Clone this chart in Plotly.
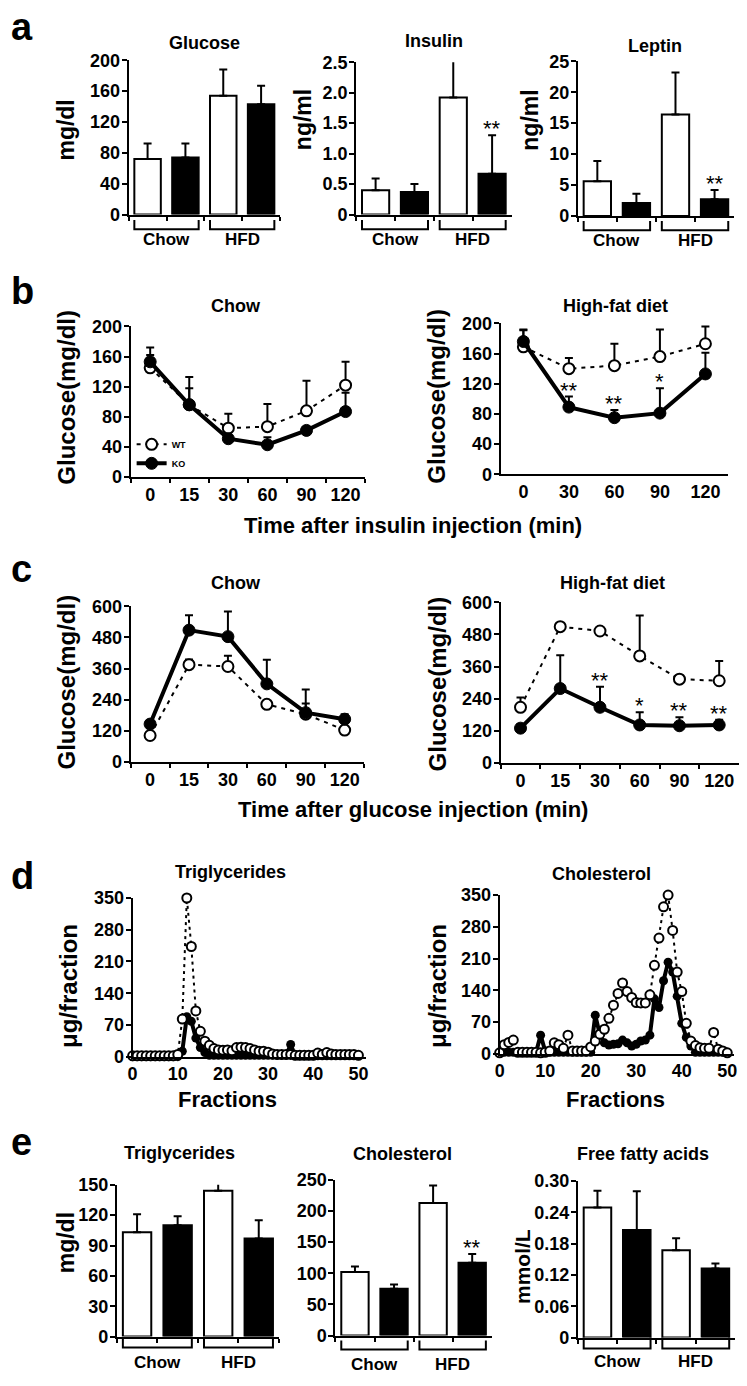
import plotly.graph_objects as go

# ---------------- data ----------------
bar_groups = ["Chow WT", "Chow KO", "HFD WT", "HFD KO"]
bar_fill = ["white", "black", "white", "black"]
group_labels = ["Chow", "HFD"]

glucose_mean = [72, 74, 154, 143]
glucose_sem = [20, 18, 34, 24]
insulin_mean = [0.40, 0.37, 1.92, 0.67]
insulin_sem = [0.19, 0.13, 0.63, 0.63]
insulin_sig = ["", "", "", "**"]
leptin_mean = [5.6, 2.1, 16.4, 2.7]
leptin_sem = [3.3, 1.5, 6.8, 1.5]
leptin_sig = ["", "", "", "**"]

itt_chow_time = ["0", "15", "30", "60", "90", "120"]
itt_chow_wt = [145, 96, 65, 67, 88, 122]
itt_chow_wt_sem = [27, 37, 19, 30, 40, 31]
itt_chow_ko = [153, 96, 51, 43, 62, 87]
itt_chow_ko_sem = [9, 22, 5, 10, 5, 25]

itt_hfd_time = ["0", "30", "60", "90", "120"]
itt_hfd_wt = [169, 140, 144, 156, 173]
itt_hfd_wt_sem = [22, 14, 29, 36, 23]
itt_hfd_ko = [176, 89, 75, 81, 133]
itt_hfd_ko_sem = [16, 14, 10, 33, 28]
itt_hfd_sig = ["", "**", "**", "*", ""]

gtt_time = ["0", "15", "30", "60", "90", "120"]
gtt_chow_wt = [102, 375, 368, 222, 184, 123]
gtt_chow_wt_sem = [10, 20, 41, 10, 41, 10]
gtt_chow_ko = [146, 508, 483, 301, 190, 165]
gtt_chow_ko_sem = [10, 57, 97, 93, 89, 19]
gtt_hfd_wt = [208, 509, 493, 400, 313, 307]
gtt_hfd_wt_sem = [37, 5, 8, 151, 5, 74]
gtt_hfd_ko = [130, 278, 208, 142, 139, 142]
gtt_hfd_ko_sem = [16, 124, 77, 47, 32, 19]
gtt_hfd_sig = ["", "", "**", "*", "**", "**"]

fractions = list(range(0, 51))
tg_wt = [2, 2, 2, 2, 2, 2, 2, 2, 2, 2,
         5, 83, 350, 243, 101, 56, 34, 25, 18, 15,
         14, 15, 13, 20, 21, 20, 18, 15, 12, 12,
         10, 6, 5, 5, 5, 5, 3, 3, 3, 3,
         3, 8, 5, 9, 6, 5, 5, 5, 5, 5, 3]
tg_ko = [0, 0, 0, 0, 0, 0, 0, 0, 0, 0,
         0, 12, 88, 78, 41, 20, 9, 3, 3, 3,
         3, 3, 3, 3, 3, 3, 3, 3, 3, 3,
         3, 3, 3, 3, 3, 27, 2, 2, 2, 2,
         2, 2, 2, 2, 2, 2, 2, 2, 2, 2, 2]
chol_wt = [2, 20, 25, 30, 3, 3, 3, 3, 3, 2,
           3, 6, 24, 20, 12, 41, 6, 6, 6, 6,
           15, 28, 43, 54, 78, 107, 133, 156, 137, 124,
           113, 112, 112, 130, 195, 255, 324, 350, 272, 180,
           137, 67, 28, 18, 13, 12, 12, 47, 10, 6, 2]
chol_ko = [3, 3, 3, 3, 3, 3, 3, 3, 3, 41,
           6, 3, 3, 3, 3, 3, 3, 3, 3, 3,
           3, 85, 43, 24, 19, 21, 22, 30, 24, 17,
           21, 28, 30, 41, 121, 102, 161, 202, 180, 127,
           67, 36, 17, 3, 3, 3, 3, 3, 3, 3, 3]
fraction_ticks = [0, 10, 20, 30, 40, 50]

e_tg_mean = [103, 110, 144, 97]
e_tg_sem = [18, 9, 14, 18]
e_chol_mean = [102, 75, 213, 117]
e_chol_sem = [9, 7, 28, 14]
e_chol_sig = ["", "", "", "**"]
ffa_mean = [0.249, 0.206, 0.167, 0.132]
ffa_sem = [0.032, 0.074, 0.023, 0.010]

# ---------------- helpers ----------------
W, H = 747, 1386
FONT = "Liberation Sans, Arial, Helvetica, sans-serif"
TICK = 18
TITLE = 18


def fx(x):
    return x / W


def fy(y):
    return 1 - y / H


def bfont(size, weight="bold"):
    return dict(family=FONT, size=size, color="black", weight=weight)


fig = go.Figure()
annotations = []
shapes = []
layout = dict(
    width=W, height=H, margin=dict(l=0, r=0, t=0, b=0),
    paper_bgcolor="white", plot_bgcolor="rgba(0,0,0,0)",
    font=bfont(14), showlegend=True,
    legend=dict(x=fx(128), y=fy(426), xanchor="left", yanchor="top",
                font=bfont(9), bgcolor="rgba(0,0,0,0)", tracegroupgap=0,
                itemwidth=30, borderwidth=0),
)


def text_at(text, x, baseline, size, weight="bold", angle=0, center_y=None):
    y = center_y if center_y is not None else baseline - 0.3465 * size
    annotations.append(dict(text=text, x=fx(x), y=fy(y), xref="paper", yref="paper",
                            xanchor="center", yanchor="middle", showarrow=False,
                            textangle=angle, font=bfont(size, weight)))


def ytitle(text, x, yc, size=23):
    text_at(text, x, None, size, angle=-90, center_y=yc)


def make_axes(n, box, ymax, ytv, ytt, xcfg):
    x0, x1, yt, yb = box
    xk = "xaxis" if n == 1 else f"xaxis{n}"
    yk = "yaxis" if n == 1 else f"yaxis{n}"
    xr, yr = ("x", "y") if n == 1 else (f"x{n}", f"y{n}")
    layout[yk] = dict(domain=[fy(yb), fy(yt)], anchor=xr, range=[0, ymax],
                      autorange=False, tickvals=ytv, ticktext=ytt, showline=True,
                      linewidth=2, linecolor="black", ticks="outside", ticklen=5,
                      tickwidth=2, tickcolor="black", showgrid=False, zeroline=False,
                      tickfont=bfont(TICK), ticklabelstandoff=-2, fixedrange=True)
    xa = dict(domain=[fx(x0), fx(x1)], anchor=yr, showline=True, linewidth=2,
              linecolor="black", showgrid=False, zeroline=False, autorange=False,
              tickangle=0, tickfont=bfont(TICK), fixedrange=True)
    xa.update(xcfg)
    layout[xk] = xa
    return xr, yr


def star(xr, yr, idx, y, text):
    annotations.append(dict(text=text, x=idx, y=y, xref=xr, yref=yr, xanchor="center",
                            yanchor="bottom", yshift=-8, showarrow=False,
                            font=bfont(22, "normal")))


def bar_panel(n, box, ymax, ytv, ytt, means, sems, sig, br_top, br_bot, lab_base):
    xr, yr = make_axes(n, box, ymax, ytv, ytt, dict(
        type="category", categoryorder="array", categoryarray=bar_groups,
        range=[-0.5, 3.5], tickson="boundaries", ticks="outside", ticklen=4,
        tickwidth=2, tickcolor="black", showticklabels=False))
    bw = 0.7
    fig.add_trace(go.Bar(
        x=bar_groups, y=means, width=bw,
        marker=dict(color=bar_fill, line=dict(color="black", width=2)),
        error_y=dict(type="data", symmetric=False, array=sems,
                     arrayminus=[0] * len(sems), width=4, thickness=2, color="black"),
        xaxis=xr, yaxis=yr, showlegend=False))
    for i, (m, s, t) in enumerate(zip(means, sems, sig)):
        if t:
            star(xr, yr, i, m + s, t)
    for gi, lab in enumerate(group_labels):
        a0 = 2 * gi - bw / 2
        a1 = 2 * gi + 1 + bw / 2
        shapes.append(dict(type="path", xref=xr, yref="paper",
                           path=f"M {a0},{fy(br_top)} L {a0},{fy(br_bot)} L {a1},{fy(br_bot)} L {a1},{fy(br_top)}",
                           line=dict(color="black", width=2)))
        annotations.append(dict(text=lab, x=2 * gi + 0.5, xref=xr, y=fy(lab_base - 0.3465 * 17),
                                yref="paper", xanchor="center", yanchor="middle",
                                showarrow=False, font=bfont(17)))
    return xr, yr


def line_panel(n, box, ymax, ytv, cats, wt, wt_sem, ko, ko_sem, sig, show_ticks, legend=False):
    xr, yr = make_axes(n, box, ymax, ytv, [str(v) for v in ytv], dict(
        type="category", categoryorder="array", categoryarray=cats,
        range=[-0.5, len(cats) - 0.5], tickson="boundaries", ticks="outside",
        ticklen=4, tickwidth=2,
        tickcolor="black" if show_ticks else "rgba(0,0,0,0)"))
    fig.add_trace(go.Scatter(
        x=cats, y=wt, mode="lines+markers", name="WT",
        line=dict(color="black", width=2, dash="4px,5px"),
        marker=dict(symbol="circle", size=11, color="white", line=dict(color="black", width=2)),
        error_y=dict(type="data", symmetric=False, array=wt_sem, arrayminus=[0] * len(wt),
                     width=4, thickness=2, color="black"),
        xaxis=xr, yaxis=yr, cliponaxis=False, showlegend=legend))
    fig.add_trace(go.Scatter(
        x=cats, y=ko, mode="lines+markers", name="KO",
        line=dict(color="black", width=4),
        marker=dict(symbol="circle", size=12, color="black", line=dict(color="black", width=1)),
        error_y=dict(type="data", symmetric=False, array=ko_sem, arrayminus=[0] * len(ko),
                     width=4, thickness=2, color="black"),
        xaxis=xr, yaxis=yr, cliponaxis=False, showlegend=legend))
    if sig:
        for i, (m, s, t) in enumerate(zip(ko, ko_sem, sig)):
            if t:
                star(xr, yr, i, m + s, t)


def fraction_panel(n, box, wt, ko, xmax):
    ytv = [0, 70, 140, 210, 280, 350]
    xr, yr = make_axes(n, box, 350, ytv, [str(v) for v in ytv], dict(
        type="linear", range=[0, xmax], tickvals=fraction_ticks, ticks=""))
    fig.add_trace(go.Scatter(
        x=fractions, y=ko, mode="lines+markers",
        line=dict(color="black", width=4),
        marker=dict(symbol="circle", size=9, color="black"),
        xaxis=xr, yaxis=yr, cliponaxis=False, showlegend=False))
    fig.add_trace(go.Scatter(
        x=fractions, y=wt, mode="lines+markers",
        line=dict(color="black", width=2, dash="3px,4px"),
        marker=dict(symbol="circle", size=9, color="white", line=dict(color="black", width=2)),
        xaxis=xr, yaxis=yr, cliponaxis=False, showlegend=False))


# ---------------- panel a ----------------
bar_panel(1, (125, 278, 51, 207.5), 200, [0, 40, 80, 120, 160, 200],
          ["0", "40", "80", "120", "160", "200"], glucose_mean, glucose_sem,
          ["", "", "", ""], 213, 222.5, 239)
bar_panel(2, (355, 512, 53, 207.5), 2.5, [0, 0.5, 1.0, 1.5, 2.0, 2.5],
          ["0", "0.5", "1.0", "1.5", "2.0", "2.5"], insulin_mean, insulin_sem,
          insulin_sig, 213, 222.5, 239)
bar_panel(3, (579, 737, 52, 209), 25, [0, 5, 10, 15, 20, 25],
          ["0", "5", "10", "15", "20", "25"], leptin_mean, leptin_sem,
          leptin_sig, 214, 223.5, 240)
text_at("Glucose", 202, 40, TITLE)
text_at("Insulin", 433.5, 38, TITLE)
text_at("Leptin", 657, 42.5, TITLE)
ytitle("mg/dl", 62, 122)
ytitle("ng/ml", 302, 111)
ytitle("ng/ml", 531, 112)

# ---------------- panel b ----------------
line_panel(4, (127, 364, 321, 474), 200, [0, 40, 80, 120, 160, 200], itt_chow_time,
           itt_chow_wt, itt_chow_wt_sem, itt_chow_ko, itt_chow_ko_sem, None, True, legend=True)
line_panel(5, (501, 731, 318, 471), 200, [0, 40, 80, 120, 160, 200], itt_hfd_time,
           itt_hfd_wt, itt_hfd_wt_sem, itt_hfd_ko, itt_hfd_ko_sem, itt_hfd_sig, False)
text_at("Chow", 233, 307, TITLE)
text_at("High-fat diet", 617, 307, TITLE)
ytitle("Glucose(mg/dl)", 62, 393, 24)
ytitle("Glucose(mg/dl)", 436, 392, 24)
text_at("Time after insulin injection (min)", 412, 531, 22)

# ---------------- panel c ----------------
line_panel(6, (127, 363, 605, 763), 600, [0, 120, 240, 360, 480, 600], gtt_time,
           gtt_chow_wt, gtt_chow_wt_sem, gtt_chow_ko, gtt_chow_ko_sem, None, True)
line_panel(7, (501, 742, 601, 764), 600, [0, 120, 240, 360, 480, 600], gtt_time,
           gtt_hfd_wt, gtt_hfd_wt_sem, gtt_hfd_ko, gtt_hfd_ko_sem, gtt_hfd_sig, True)
text_at("Chow", 233, 588, TITLE)
text_at("High-fat diet", 614.5, 588, TITLE)
ytitle("Glucose(mg/dl)", 62, 682, 24)
ytitle("Glucose(mg/dl)", 437, 684, 24)
text_at("Time after glucose injection (min)", 412, 819, 22)

# ---------------- panel d ----------------
fraction_panel(8, (129, 365, 901, 1062), tg_wt, tg_ko, 51.7)
fraction_panel(9, (500, 737, 898, 1059), chol_wt, chol_ko, 51.5)
text_at("Triglycerides", 227.5, 881, TITLE)
text_at("Cholesterol", 602.5, 883, TITLE)
ytitle("μg/fraction", 64, 990, 24)
ytitle("μg/fraction", 437, 990, 24)
text_at("Fractions", 225, 1113, 22)
text_at("Fractions", 617.5, 1113, 22)

# ---------------- panel e ----------------
bar_panel(10, (113, 277, 1192, 1346), 150, [0, 30, 60, 90, 120, 150],
          ["0", "30", "60", "90", "120", "150"], e_tg_mean, e_tg_sem,
          ["", "", "", ""], 1347, 1357, 1378)
bar_panel(11, (334, 492, 1187, 1345), 250, [0, 50, 100, 150, 200, 250],
          ["0", "50", "100", "150", "200", "250"], e_chol_mean, e_chol_sem,
          e_chol_sig, 1350, 1359, 1380)
bar_panel(12, (579, 738, 1188, 1347), 0.30, [0, 0.06, 0.12, 0.18, 0.24, 0.30],
          ["0", "0.06", "0.12", "0.18", "0.24", "0.30"], ffa_mean, ffa_sem,
          ["", "", "", ""], 1347, 1358, 1377)
text_at("Triglycerides", 176, 1166, TITLE)
text_at("Cholesterol", 402, 1167, TITLE)
text_at("Free fatty acids", 645, 1167, TITLE)
ytitle("mg/dl", 62, 1251)
ytitle("mmol/L", 523, 1275, 21)

# ---------------- panel letters ----------------
for letter, base in [("a", 30), ("b", 298), ("c", 580), ("d", 892), ("e", 1162)]:
    annotations.append(dict(text=letter, x=fx(4), y=fy(base - 0.3465 * 38), xref="paper",
                            yref="paper", xanchor="left", yanchor="middle",
                            showarrow=False, font=bfont(38)))

layout["annotations"] = annotations
layout["shapes"] = shapes
fig.update_layout(**layout)
fig.write_html("out.html", config={"displayModeBar": False},
               post_script="document.body.style.margin='0px';document.body.style.overflow='hidden';")
